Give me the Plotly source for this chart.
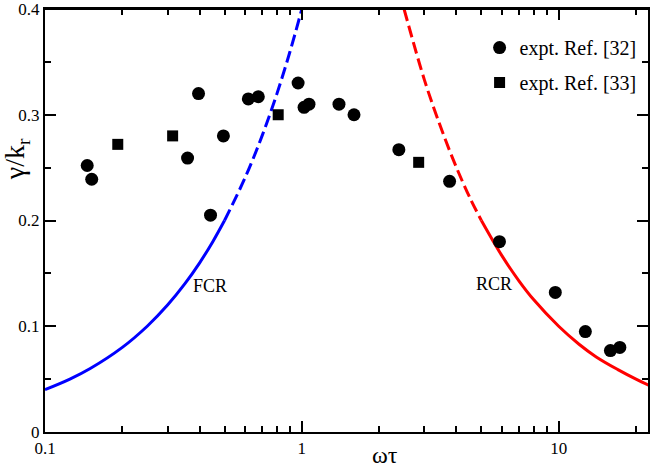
import plotly.graph_objects as go

# Experimental data, Ref. [32] (circles)
ref32_x = [0.146, 0.152, 0.396, 0.359, 0.495, 0.441, 0.619, 0.677, 0.967, 1.02, 1.066,
           1.395, 1.596, 2.386, 3.76, 5.88, 9.7, 12.7, 15.9, 17.3]
ref32_y = [0.252, 0.239, 0.320, 0.259, 0.280, 0.205, 0.315, 0.317, 0.330, 0.307, 0.310,
           0.310, 0.300, 0.267, 0.237, 0.180, 0.132, 0.095, 0.077, 0.080]

# Experimental data, Ref. [33] (squares)
ref33_x = [0.192, 0.314, 0.809, 2.85]
ref33_y = [0.272, 0.280, 0.300, 0.255]

# FCR curve (blue): solid part then dashed part
fcr_solid_x = [0.1, 0.125, 0.15, 0.2, 0.25, 0.3, 0.35, 0.4, 0.45, 0.5]
fcr_solid_y = [0.040, 0.050, 0.060, 0.080, 0.100, 0.120, 0.140, 0.160, 0.180, 0.200]
fcr_dash_x = [0.5, 0.6, 0.7, 0.8, 0.9, 1.0]
fcr_dash_y = [0.200, 0.240, 0.280, 0.320, 0.360, 0.400]

# RCR curve (red): dashed part then solid part
rcr_dash_x = [2.5, 3.0, 3.5, 4.0, 4.5, 5.0]
rcr_dash_y = [0.400, 0.333, 0.286, 0.250, 0.222, 0.200]
rcr_solid_x = [5.0, 6.0, 7.0, 8.0, 10.0, 12.0, 14.0, 17.0, 20.0, 22.5]
rcr_solid_y = [0.200, 0.167, 0.143, 0.125, 0.100, 0.083, 0.071, 0.059, 0.050, 0.044]

x_tickvals = [0.1, 1, 10]
x_ticktext = ["0.1", "1", "10"]
x_minor = [0.2, 0.3, 0.4, 0.5, 0.6, 0.7, 0.8, 0.9, 2, 3, 4, 5, 6, 7, 8, 9, 20]
y_tickvals = [0, 0.1, 0.2, 0.3, 0.4]
y_ticktext = ["0", "0.1", "0.2", "0.3", "0.4"]
y_minor = [0.05, 0.15, 0.25, 0.35]

FONT = "Liberation Serif, Times New Roman, serif"

fig = go.Figure()

fig.add_trace(go.Scatter(x=fcr_solid_x, y=fcr_solid_y, mode="lines", line=dict(color="#0000ff", width=3, shape="spline"),
                         showlegend=False, hoverinfo="skip"))
fig.add_trace(go.Scatter(x=fcr_dash_x, y=fcr_dash_y, mode="lines",
                         line=dict(color="#0000ff", width=3, dash="12px,5px", shape="spline"),
                         showlegend=False, hoverinfo="skip"))
fig.add_trace(go.Scatter(x=rcr_dash_x, y=rcr_dash_y, mode="lines",
                         line=dict(color="#ff0000", width=3, dash="12px,5px", shape="spline"),
                         showlegend=False, hoverinfo="skip"))
fig.add_trace(go.Scatter(x=rcr_solid_x, y=rcr_solid_y, mode="lines", line=dict(color="#ff0000", width=3, shape="spline"),
                         showlegend=False, hoverinfo="skip"))

fig.add_trace(go.Scatter(x=ref32_x, y=ref32_y, mode="markers", name="expt. Ref. [32]",
                         marker=dict(symbol="circle", size=13, color="black"), legendgroup="a"))
fig.add_trace(go.Scatter(x=ref33_x, y=ref33_y, mode="markers", name="expt. Ref. [33]",
                         marker=dict(symbol="square", size=11, color="black"), legendgroup="b"))

fig.update_layout(
    width=650, height=467,
    margin=dict(l=45, r=0, t=6, b=35),
    paper_bgcolor="white", plot_bgcolor="white",
    font=dict(family=FONT, size=17, color="black"),
    showlegend=True,
    legend=dict(x=0.7207, y=0.955, xanchor="left", yanchor="top",
                font=dict(family=FONT, size=20, color="black"),
                bgcolor="rgba(0,0,0,0)", tracegroupgap=6, itemwidth=30),
    xaxis=dict(type="log", range=[-1, 1.3477], tickvals=x_tickvals, ticktext=x_ticktext,
               ticks="inside", ticklen=11, tickwidth=1.5, tickcolor="black",
               showline=True, linewidth=2, linecolor="black", mirror="ticks",
               showgrid=False, zeroline=False, ticklabeloverflow="allow",
               minor=dict(tickvals=x_minor, ticks="inside", ticklen=6, tickwidth=1.5, tickcolor="black", showgrid=False),
               tickfont=dict(family=FONT, size=17)),
    yaxis=dict(range=[0, 0.4], tickvals=y_tickvals, ticktext=y_ticktext,
               ticks="inside", ticklen=11, tickwidth=1.5, tickcolor="black",
               showline=True, linewidth=2, linecolor="black", mirror="ticks",
               showgrid=False, zeroline=False, ticklabeloverflow="allow",
               minor=dict(tickvals=y_minor, ticks="inside", ticklen=6, tickwidth=1.5, tickcolor="black", showgrid=False),
               tickfont=dict(family=FONT, size=17)),
    shapes=[dict(type="line", xref="paper", yref="paper", x0=0, x1=1, y0=1, y1=1,
                 line=dict(color="black", width=2))],
    annotations=[
        dict(text="ωτ", x=(386 - 45) / 605, y=-(455 - 431.7) / 425.7, xref="paper", yref="paper",
             showarrow=False, font=dict(family=FONT, size=24), xanchor="center", yanchor="middle"),
        dict(text="γ/k<sub>r</sub>", x=(16 - 45) / 605, y=1 - (157 - 6) / 425.7, xref="paper", yref="paper",
             showarrow=False, textangle=-90, font=dict(family=FONT, size=28), xanchor="center", yanchor="middle"),
        dict(text="FCR", x=(211 - 45) / 605, y=1 - (285 - 6) / 425.7, xref="paper", yref="paper",
             showarrow=False, font=dict(family=FONT, size=18), xanchor="center", yanchor="middle"),
        dict(text="RCR", x=(495 - 45) / 605, y=1 - (283 - 6) / 425.7, xref="paper", yref="paper",
             showarrow=False, font=dict(family=FONT, size=18), xanchor="center", yanchor="middle"),
    ],
)

fig.write_html("out.html", config={"displayModeBar": False},
               post_script="document.body.style.margin='0';document.body.style.overflow='hidden';")
